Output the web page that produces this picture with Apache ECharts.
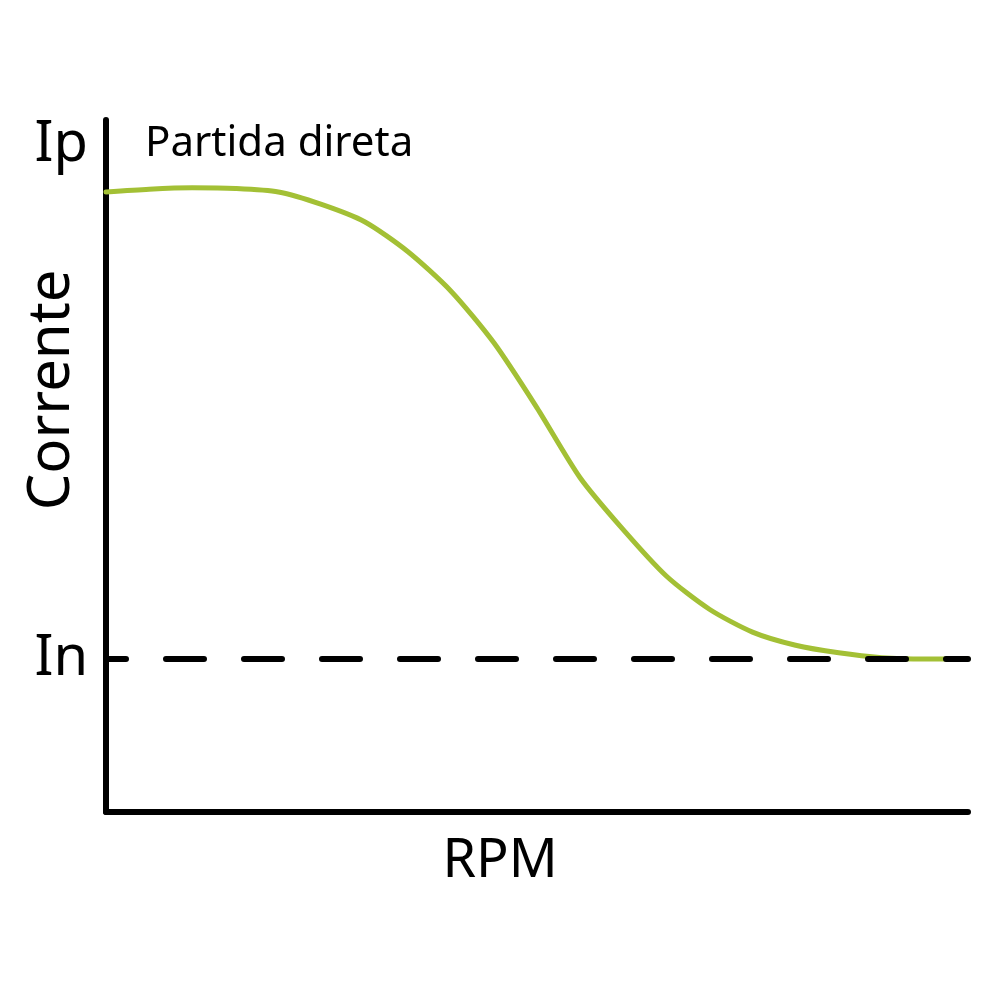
<!DOCTYPE html>
<html style="height:100%">
<head>
    <meta charset="utf-8">
    <title>Partida direta</title>
    <script src="https://cdn.jsdelivr.net/npm/echarts@6/dist/echarts.min.js"></script>
</head>
<body style="height:100%;width:100%;margin:0;background:#fff;">
    <div id="main" style="width:1000px;height:1000px;margin:0"></div>
    <script type="text/javascript">
        // RPM (0-100 % of axis) and current (0-100 % of axis height)
        var rpm     = [0, 5, 10, 15, 20, 25, 30, 35, 40, 45, 50, 55, 60, 65, 70, 75, 80, 85, 90, 95, 100];
        var current = [89.6, 90.0, 90.2, 90.1, 89.6, 87.8, 85.3, 81.0, 75.3, 67.8, 58.4, 48.3, 40.8, 34.1, 29.3, 26.0, 24.1, 23.0, 22.3, 22.1, 22.1];
        var levelIp = 96.4;
        var levelIn = 22.1;
        var levelNames = ['In', 'Ip'];
        var levelValues = [levelIn, levelIp];

        var font = 'Noto Sans';
        var myChart = echarts.init(document.getElementById('main'));
        myChart.setOption({
            animation: false,
            grid: { left: 106, right: 32, top: 120, bottom: 188 },
            xAxis: {
                type: 'value',
                min: 0,
                max: 100,
                axisLine: { show: true, lineStyle: { color: '#000', width: 6, cap: 'round' } },
                axisTick: { show: false },
                axisLabel: { show: false },
                splitLine: { show: false }
            },
            yAxis: {
                type: 'value',
                min: 0,
                max: 100,
                axisLine: { show: true, lineStyle: { color: '#000', width: 6, cap: 'round' } },
                axisTick: { show: false },
                splitLine: { show: false },
                axisLabel: {
                    customValues: levelValues,
                    margin: 18,
                    color: '#000',
                    fontFamily: font,
                    fontSize: 56,
                    formatter: function (v) {
                        var i = levelValues.indexOf(v);
                        return i >= 0 ? levelNames[i] : '';
                    }
                }
            },
            graphic: [
                {
                    type: 'text', left: 145, top: 123,
                    style: { text: 'Partida direta', fill: '#000', font: '42px "' + font + '"' }
                },
                {
                    type: 'text', x: 52, y: 390, rotation: Math.PI / 2,
                    style: { text: 'Corrente', fill: '#000', font: '58px "' + font + '"', align: 'center', verticalAlign: 'middle' }
                },
                {
                    type: 'text', x: 500, y: 862,
                    style: { text: 'RPM', fill: '#000', font: '54px "' + font + '"', align: 'center', verticalAlign: 'middle' }
                }
            ],
            series: [
                {
                    type: 'line',
                    data: rpm.map(function (x, i) { return [x, current[i]]; }),
                    smooth: 0.25,
                    showSymbol: false,
                    lineStyle: { color: '#a3c035', width: 5, cap: 'round', join: 'round' },
                    z: 2
                },
                {
                    type: 'line',
                    data: [],
                    z: 5,
                    markLine: {
                        silent: true,
                        symbol: ['none', 'none'],
                        label: { show: false },
                        lineStyle: { color: '#000', width: 6, type: [38, 40], dashOffset: 18, cap: 'round' },
                        data: [[{ coord: [0, levelIn] }, { coord: [100, levelIn] }]]
                    }
                }
            ]
        });
    </script>
</body>
</html>
